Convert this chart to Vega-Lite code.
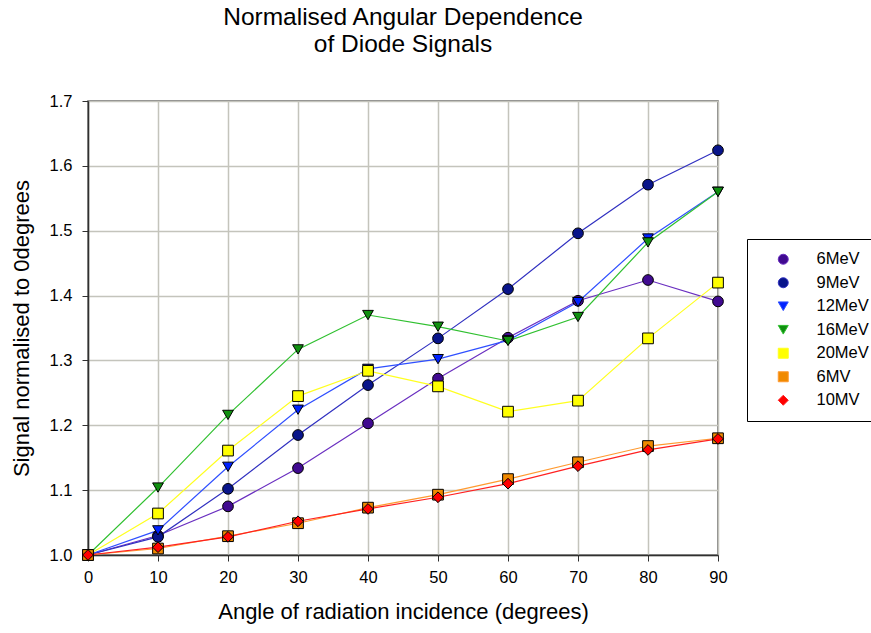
{
  "$schema": "https://vega.github.io/schema/vega-lite/v6.json",
  "autosize": {"type": "none"},
  "width": 630,
  "height": 454,
  "padding": {"left": 88, "top": 101, "right": 153, "bottom": 78},
  "background": "white",
  "config": {
    "font": "Liberation Sans",
    "view": {"stroke": "#606060", "strokeWidth": 1.5},
    "legend": {
      "orient": "none",
      "legendX": 659,
      "legendY": 138,
      "direction": "vertical",
      "strokeColor": "black",
      "fillColor": "white",
      "padding": 12,
      "rowPadding": 6.5,
      "symbolSize": 100,
      "symbolStrokeWidth": 1,
      "symbolOffset": 16,
      "labelFontSize": 16.5,
      "labelColor": "black",
      "labelOffset": 25,
      "labelLimit": 200
    }
  },
  "title": {
    "text": ["Normalised Angular Dependence", "of Diode Signals"],
    "anchor": "middle",
    "font": "Liberation Sans",
    "fontSize": 24.5,
    "fontWeight": "normal",
    "color": "black",
    "lineHeight": 27,
    "offset": 36
  },
  "data": {
    "values": [
      {"series": "6MeV", "angle": 0, "signal": 1.0},
      {"series": "6MeV", "angle": 10, "signal": 1.030},
      {"series": "6MeV", "angle": 20, "signal": 1.075},
      {"series": "6MeV", "angle": 30, "signal": 1.134},
      {"series": "6MeV", "angle": 40, "signal": 1.203},
      {"series": "6MeV", "angle": 50, "signal": 1.272},
      {"series": "6MeV", "angle": 60, "signal": 1.335},
      {"series": "6MeV", "angle": 70, "signal": 1.392},
      {"series": "6MeV", "angle": 80, "signal": 1.424},
      {"series": "6MeV", "angle": 90, "signal": 1.391},

      {"series": "9MeV", "angle": 0, "signal": 1.0},
      {"series": "9MeV", "angle": 10, "signal": 1.028},
      {"series": "9MeV", "angle": 20, "signal": 1.102},
      {"series": "9MeV", "angle": 30, "signal": 1.185},
      {"series": "9MeV", "angle": 40, "signal": 1.262},
      {"series": "9MeV", "angle": 50, "signal": 1.334},
      {"series": "9MeV", "angle": 60, "signal": 1.410},
      {"series": "9MeV", "angle": 70, "signal": 1.496},
      {"series": "9MeV", "angle": 80, "signal": 1.571},
      {"series": "9MeV", "angle": 90, "signal": 1.624},

      {"series": "12MeV", "angle": 0, "signal": 1.0},
      {"series": "12MeV", "angle": 10, "signal": 1.038},
      {"series": "12MeV", "angle": 20, "signal": 1.136},
      {"series": "12MeV", "angle": 30, "signal": 1.224},
      {"series": "12MeV", "angle": 40, "signal": 1.287},
      {"series": "12MeV", "angle": 50, "signal": 1.302},
      {"series": "12MeV", "angle": 60, "signal": 1.331},
      {"series": "12MeV", "angle": 70, "signal": 1.390},
      {"series": "12MeV", "angle": 80, "signal": 1.488},
      {"series": "12MeV", "angle": 90, "signal": 1.560},

      {"series": "16MeV", "angle": 0, "signal": 1.0},
      {"series": "16MeV", "angle": 10, "signal": 1.104},
      {"series": "16MeV", "angle": 20, "signal": 1.216},
      {"series": "16MeV", "angle": 30, "signal": 1.317},
      {"series": "16MeV", "angle": 40, "signal": 1.370},
      {"series": "16MeV", "angle": 50, "signal": 1.352},
      {"series": "16MeV", "angle": 60, "signal": 1.330},
      {"series": "16MeV", "angle": 70, "signal": 1.367},
      {"series": "16MeV", "angle": 80, "signal": 1.482},
      {"series": "16MeV", "angle": 90, "signal": 1.560},

      {"series": "20MeV", "angle": 0, "signal": 1.0},
      {"series": "20MeV", "angle": 10, "signal": 1.064},
      {"series": "20MeV", "angle": 20, "signal": 1.161},
      {"series": "20MeV", "angle": 30, "signal": 1.245},
      {"series": "20MeV", "angle": 40, "signal": 1.284},
      {"series": "20MeV", "angle": 50, "signal": 1.260},
      {"series": "20MeV", "angle": 60, "signal": 1.221},
      {"series": "20MeV", "angle": 70, "signal": 1.238},
      {"series": "20MeV", "angle": 80, "signal": 1.334},
      {"series": "20MeV", "angle": 90, "signal": 1.420},

      {"series": "6MV", "angle": 0, "signal": 1.0},
      {"series": "6MV", "angle": 10, "signal": 1.010},
      {"series": "6MV", "angle": 20, "signal": 1.029},
      {"series": "6MV", "angle": 30, "signal": 1.049},
      {"series": "6MV", "angle": 40, "signal": 1.073},
      {"series": "6MV", "angle": 50, "signal": 1.093},
      {"series": "6MV", "angle": 60, "signal": 1.117},
      {"series": "6MV", "angle": 70, "signal": 1.143},
      {"series": "6MV", "angle": 80, "signal": 1.168},
      {"series": "6MV", "angle": 90, "signal": 1.180},

      {"series": "10MV", "angle": 0, "signal": 1.0},
      {"series": "10MV", "angle": 10, "signal": 1.012},
      {"series": "10MV", "angle": 20, "signal": 1.028},
      {"series": "10MV", "angle": 30, "signal": 1.052},
      {"series": "10MV", "angle": 40, "signal": 1.071},
      {"series": "10MV", "angle": 50, "signal": 1.089},
      {"series": "10MV", "angle": 60, "signal": 1.110},
      {"series": "10MV", "angle": 70, "signal": 1.137},
      {"series": "10MV", "angle": 80, "signal": 1.162},
      {"series": "10MV", "angle": 90, "signal": 1.179}
    ]
  },
  "encoding": {
    "x": {
      "field": "angle",
      "type": "quantitative",
      "scale": {"domain": [0, 90], "nice": false},
      "axis": {
        "title": "Angle of radiation incidence (degrees)",
        "values": [0, 10, 20, 30, 40, 50, 60, 70, 80, 90],
        "grid": true,
        "gridColor": "#c4c4bc",
        "gridWidth": 1.5,
        "domainColor": "#303030",
        "domainWidth": 1.5,
        "tickColor": "#303030",
        "tickSize": 6,
        "labelFontSize": 16.5,
        "labelColor": "black",
        "labelPadding": 8,
        "labelFlush": false,
        "titleFontSize": 22,
        "titleFontWeight": "normal",
        "titleColor": "black",
        "titlePadding": 16
      }
    },
    "y": {
      "field": "signal",
      "type": "quantitative",
      "scale": {"domain": [1.0, 1.7], "nice": false, "zero": false},
      "axis": {
        "title": "Signal normalised to 0degrees",
        "values": [1.0, 1.1, 1.2, 1.3, 1.4, 1.5, 1.6, 1.7],
        "format": ".1f",
        "grid": true,
        "gridColor": "#c4c4bc",
        "gridWidth": 1.5,
        "domainColor": "#303030",
        "domainWidth": 1.5,
        "tickColor": "#303030",
        "tickSize": 6,
        "labelFontSize": 16.5,
        "labelColor": "black",
        "labelPadding": 10,
        "labelFlush": false,
        "titleFontSize": 22,
        "titleFontWeight": "normal",
        "titleColor": "black",
        "titlePadding": 16
      }
    }
  },
  "layer": [
    {
      "mark": {"type": "line", "strokeWidth": 1.2},
      "encoding": {
        "color": {
          "field": "series",
          "type": "nominal",
          "title": null,
          "scale": {
            "domain": ["6MeV", "9MeV", "12MeV", "16MeV", "20MeV", "6MV", "10MV"],
            "range": ["#6a2fc0", "#3030c0", "#2f4fff", "#30c030", "#ffff20", "#ff9a30", "#ff2020"]
          }
        }
      }
    },
    {
      "mark": {"type": "point", "filled": true, "opacity": 1, "stroke": "black", "strokeWidth": 1, "size": 115},
      "encoding": {
        "fill": {
          "field": "series",
          "type": "nominal",
          "title": null,
          "scale": {
            "domain": ["6MeV", "9MeV", "12MeV", "16MeV", "20MeV", "6MV", "10MV"],
            "range": ["#400a90", "#08148a", "#0022ff", "#109010", "#ffff00", "#f08a00", "#ff0000"]
          }
        },
        "shape": {
          "field": "series",
          "type": "nominal",
          "title": null,
          "scale": {
            "domain": ["6MeV", "9MeV", "12MeV", "16MeV", "20MeV", "6MV", "10MV"],
            "range": ["circle", "circle", "triangle-down", "triangle-down", "square", "square", "diamond"]
          }
        }
      }
    }
  ]
}
